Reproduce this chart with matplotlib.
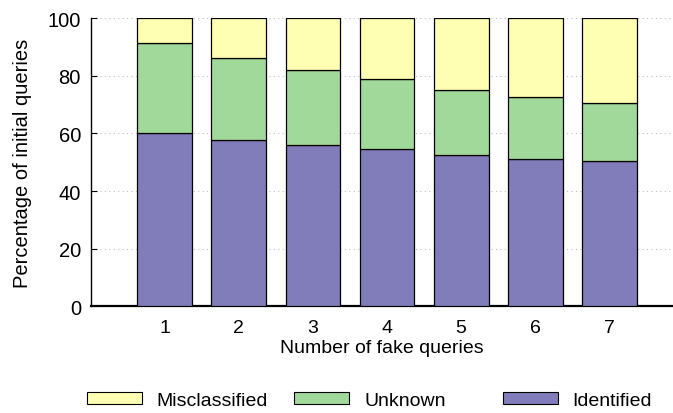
import matplotlib
matplotlib.use("Agg")
import matplotlib.pyplot as plt
import numpy as np
from matplotlib.patches import Patch

plt.rcParams["font.family"] = ["Liberation Sans", "DejaVu Sans"]

fake_queries = [1, 2, 3, 4, 5, 6, 7]
identified = [60.0, 57.7, 55.9, 54.7, 52.5, 51.2, 50.3]
unknown_top = [91.4, 86.1, 82.1, 78.7, 74.9, 72.5, 70.4]
unknown = [u - i for u, i in zip(unknown_top, identified)]
misclassified = [100 - u for u in unknown_top]

PURPLE = "#807dba"
GREEN = "#a1d99b"
YELLOW = "#ffffb3"
FS = 14

fig = plt.figure(figsize=(6.73, 4.14), dpi=100)
ax = fig.add_axes([0.1348, 0.2577, 0.8652, 0.6963])

x = np.array(fake_queries)
width = 0.74
kw = dict(width=width, edgecolor="black", linewidth=0.9, zorder=3)
ax.bar(x, identified, color=PURPLE, **kw)
ax.bar(x, unknown, bottom=identified, color=GREEN, **kw)
ax.bar(x, misclassified, bottom=unknown_top, color=YELLOW, **kw)

ax.set_xlim(0, 7.86)
ax.set_ylim(0, 100)
ax.set_xticks(fake_queries)
ax.set_yticks([0, 20, 40, 60, 80, 100])
ax.tick_params(axis="y", direction="in", length=4, width=0.8, labelsize=14.5, pad=7)
ax.tick_params(axis="x", length=0, labelsize=FS, pad=9)
for y in [20, 40, 60, 80, 100]:
    ax.axhline(y, color="#c0c0c0", linestyle=(0, (1, 3)), linewidth=0.8, zorder=1)

for side in ["top", "right"]:
    ax.spines[side].set_visible(False)
ax.spines["left"].set_linewidth(1.0)
ax.spines["bottom"].set_linewidth(1.6)

ax.set_xlabel("Number of fake queries", fontsize=FS, labelpad=2)
ax.set_ylabel("Percentage of initial queries", fontsize=14.5, labelpad=11)

entries = [("Misclassified", YELLOW, 0.129), ("Unknown", GREEN, 0.437), ("Identified", PURPLE, 0.747)]
for label, color, xpos in entries:
    handle = Patch(facecolor=color, edgecolor="black", linewidth=0.8)
    fig.legend([handle], [label], loc="center left", bbox_to_anchor=(xpos, 0.031),
               frameon=False, fontsize=FS, handlelength=2.83, handleheight=0.6,
               handletextpad=0.77, borderpad=0, borderaxespad=0)

fig.savefig("out.png", dpi=100)
